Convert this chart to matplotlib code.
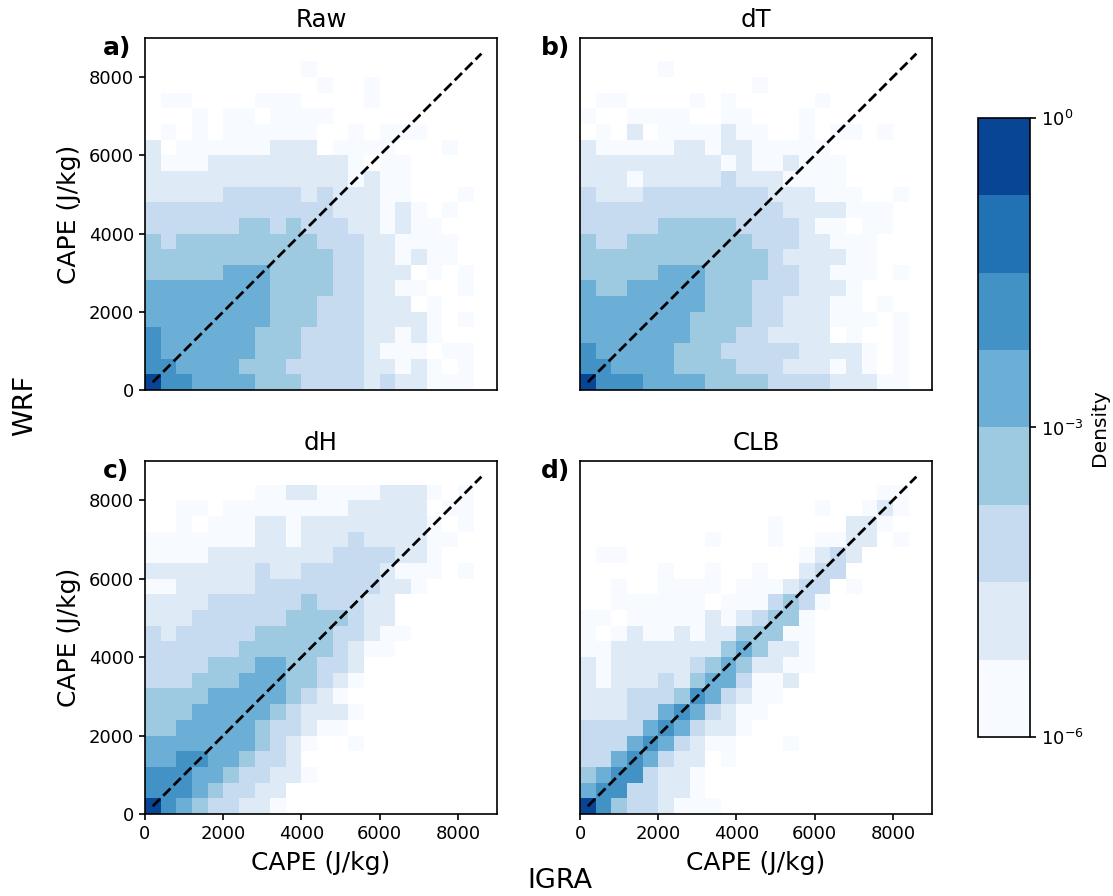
import numpy as np
import matplotlib
matplotlib.use('Agg')
import matplotlib.pyplot as plt
from matplotlib.colors import ListedColormap, LogNorm

# density class of each 400 J/kg cell (0 = empty, 1..8 = colour class)
# rows go from WRF = 8000-8400 at the top down to WRF = 0-400
raw = ["0000000000100000000000",
       "0000000000010010000000",
       "0110000111000010000000",
       "0001011011110000000000",
       "0101011111100101110000",
       "2011111122201111000100",
       "2111222222222101100000",
       "2222222222222121100000",
       "2222233333232221100010",
       "3333333333332221210100",
       "3333334434333221211000",
       "4344444444433322111100",
       "4444444444443322121100",
       "4444455544443322201010",
       "5555555544443322110010",
       "5555555544433322201000",
       "5555555544433322221010",
       "6555555444333322121000",
       "6555555444333321110110",
       "6655554443333322121010",
       "8665555444333323221110"]
dt = ["0000010000000000000000",
      "0000000000010000000000",
      "0110000101000001000000",
      "1001111001100010000000",
      "0102011112110010110100",
      "2111112212211111000000",
      "2222222221211211100000",
      "2221222223222111100000",
      "3222333333332221110010",
      "3333333333333222211100",
      "3333344444333321101100",
      "4334444444433322111000",
      "4444444444443222211000",
      "4444455544443322111010",
      "5445555544433322210000",
      "5555555544433222110100",
      "5555555444433222111010",
      "5555555444332222010010",
      "6555554443333322221010",
      "6655554444333222121010",
      "8666555544443333222110"]
dh = ["0000000112211112221010",
      "0011011111111222220110",
      "0010111221222222221010",
      "1111111221222322221100",
      "1111222222223333221000",
      "2222222322333332111010",
      "1122222333333332210000",
      "2222333333433322000000",
      "2223333334444322000000",
      "3233333444443321100000",
      "3333334444443211000000",
      "3333444554433200000000",
      "3334445554432100000000",
      "4444555554321000000000",
      "4445555543222100000000",
      "4455555433211000000000",
      "5555555432100100000000",
      "5566554332000000000000",
      "6665543322100000000000",
      "6665433220000000000000",
      "8654332210000000000000"]
clb = ["0000000000000000000110",
       "0000000000000001001210",
       "0000000000001000022100",
       "0000000010001001122010",
       "0110000000000012320000",
       "0000010010010023300000",
       "0010011110111233010000",
       "0011111101113431000000",
       "1101111121234410000000",
       "1012112122444110000000",
       "1122222224542210000000",
       "2122222345422110000000",
       "2122232455311200000000",
       "2223334653211000000000",
       "2223356532110000000000",
       "3333565322100000000000",
       "3335653211000100000000",
       "3356532201000000000000",
       "4566322100000000000000",
       "5663322100000000000000",
       "8643321110000000000000"]
titles = ['Raw', 'dT', 'dH', 'CLB']
letters = ['a)', 'b)', 'c)', 'd)']
panels = [raw, dt, dh, clb]
blues = ['#f7fbff', '#deebf7', '#c6dbef', '#9ecae1', '#6baed6', '#4292c6', '#2171b5', '#084594']
ticks = [0, 2000, 4000, 6000, 8000]
one_to_one = [200, 8600]

W, H = 1113, 896
plt.rcParams['axes.linewidth'] = 1.2
fig = plt.figure(figsize=(W / 100, H / 100), dpi=100)

cmap = ListedColormap(blues)
norm = LogNorm(1e-6, 1)

# axes boxes in pixels: left, top, right, bottom
boxes = [(145, 38, 497, 390), (580, 38, 932, 390), (145, 461, 497, 814), (580, 461, 932, 814)]
letter_x = [103, 541, 103, 541]
xedges = np.arange(0, 8801, 400)
yedges = np.arange(0, 8401, 400)

for i, rows in enumerate(panels):
    l, t, r, b = boxes[i]
    ax = fig.add_axes([l / W, 1 - b / H, (r - l) / W, (b - t) / H])
    cls = np.array([[int(c) for c in row] for row in rows[::-1]], dtype=float)
    # centre of the log class, so the norm puts it back in the same colour
    dens = np.ma.masked_where(cls == 0, 10.0 ** (-6 + 0.75 * (cls - 0.5)))
    ax.pcolormesh(xedges, yedges, dens, cmap=cmap, norm=norm)
    ax.plot(one_to_one, one_to_one, 'k--', lw=2.0, dashes=(3.7, 1.6))
    ax.set_xlim(0, 9000)
    ax.set_ylim(0, 9000)
    ax.set_title(titles[i], fontsize=17.6, pad=8)
    ax.tick_params(labelsize=13, length=4.5, width=1.2)
    if i >= 2:
        ax.set_xticks(ticks)
        ax.set_xlabel('CAPE (J/kg)', fontsize=18, labelpad=5.5)
    else:
        ax.set_xticks([])
    if i % 2 == 0:
        ax.set_yticks(ticks)
        ax.set_ylabel('CAPE (J/kg)', fontsize=18, labelpad=5.5)
    else:
        ax.set_yticks([])
    ax.text(letter_x[i] / W, 1 - (t + 10) / H, letters[i], transform=fig.transFigure,
            fontsize=18, fontweight='bold', va='center', ha='left')

cax = fig.add_axes([978 / W, 1 - 737 / H, 52 / W, 619 / H])
sm = plt.cm.ScalarMappable(cmap=cmap, norm=norm)
cb = fig.colorbar(sm, cax=cax, ticks=[1e-6, 1e-3, 1e0])
cb.ax.minorticks_off()
cb.ax.tick_params(labelsize=13, length=4.5, width=1.2)
cb.set_label('Density', fontsize=14.5, labelpad=4)

fig.text(25 / W, 1 - 405 / H, 'WRF', rotation=90, fontsize=19.5, ha='center', va='center')
fig.text(560 / W, 1 - 881 / H, 'IGRA', fontsize=19.5, ha='center', va='center')

fig.savefig('out.png', dpi=100)
